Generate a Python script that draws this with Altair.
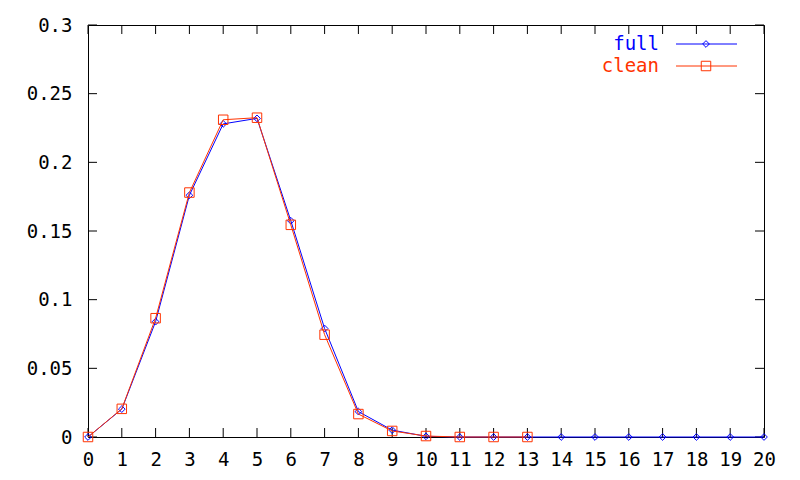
import altair as alt
import pandas as pd

x_full = list(range(21))
full = [0.0, 0.0203, 0.0840, 0.1760, 0.2280, 0.2320, 0.1575, 0.0790, 0.0185,
        0.0050, 0.0005, 0.0, 0.0, 0.0, 0.0, 0.0, 0.0, 0.0, 0.0, 0.0, 0.0]
x_clean = list(range(14))
clean = [0.0, 0.0205, 0.0865, 0.1780, 0.2310, 0.2325, 0.1545, 0.0745, 0.0167,
         0.0044, 0.0007, 0.0, 0.0, 0.0]
x_ticks = list(range(21))
y_ticks = [0.0, 0.05, 0.1, 0.15, 0.2, 0.25, 0.3]

BLUE = "#0000FF"
RED = "#FF3300"
FONT = "DejaVu Sans Mono"
FS = 19
W, H = 676, 412

df_full = pd.DataFrame({"x": x_full, "y": full})
df_clean = pd.DataFrame({"x": x_clean, "y": clean})
df_xt = pd.DataFrame({"x": x_ticks})
df_yt = pd.DataFrame({"y": y_ticks})

xs = alt.Scale(domain=[0, 20], nice=False, zero=False)
ys = alt.Scale(domain=[0, 0.3], nice=False)

xaxis = alt.Axis(values=x_ticks, format="d", tickSize=0, domain=False, grid=False,
                 labelPadding=13, title=None, labelFlush=False, labelOverlap=False)
yaxis = alt.Axis(values=y_ticks, format="~g", tickSize=0, domain=False, grid=False,
                 labelPadding=16, title=None, labelOverlap=False)

X = alt.X("x:Q", scale=xs, axis=xaxis)
Y = alt.Y("y:Q", scale=ys, axis=yaxis)

line_full = alt.Chart(df_full).mark_line(color=BLUE, strokeWidth=1).encode(x=X, y=Y)
pts_full = alt.Chart(df_full).mark_point(shape="diamond", color=BLUE, size=45,
                                          strokeWidth=1, filled=False, opacity=1).encode(x=X, y=Y)
line_clean = alt.Chart(df_clean).mark_line(color=RED, strokeWidth=1).encode(x=X, y=Y)
pts_clean = alt.Chart(df_clean).mark_point(shape="square", color=RED, size=90,
                                            strokeWidth=1, filled=False, opacity=1).encode(x=X, y=Y)

tick_b = alt.Chart(df_xt).mark_rule(color="black", strokeWidth=1).encode(
    x=X, y=alt.value(H), y2=alt.value(H - 9))
tick_t = alt.Chart(df_xt).mark_rule(color="black", strokeWidth=1).encode(
    x=X, y=alt.value(0), y2=alt.value(9))
tick_l = alt.Chart(df_yt).mark_rule(color="black", strokeWidth=1).encode(
    y=Y, x=alt.value(0), x2=alt.value(9))
tick_r = alt.Chart(df_yt).mark_rule(color="black", strokeWidth=1).encode(
    y=Y, x=alt.value(W), x2=alt.value(W - 9))

# legend (label left, sample line + symbol right, as in gnuplot)
one = pd.DataFrame({"t": ["full"]})
one_c = pd.DataFrame({"t": ["clean"]})
leg_text_full = alt.Chart(one).mark_text(
    font=FONT, fontSize=FS, color=BLUE, align="right", baseline="middle").encode(
    text="t:N", x=alt.value(571), y=alt.value(19))
leg_text_clean = alt.Chart(one_c).mark_text(
    font=FONT, fontSize=FS, color=RED, align="right", baseline="middle").encode(
    text="t:N", x=alt.value(571), y=alt.value(41))
leg_line_full = alt.Chart(one).mark_rule(color=BLUE, strokeWidth=1).encode(
    x=alt.value(588), x2=alt.value(649), y=alt.value(19))
leg_line_clean = alt.Chart(one_c).mark_rule(color=RED, strokeWidth=1).encode(
    x=alt.value(588), x2=alt.value(649), y=alt.value(41))
leg_pt_full = alt.Chart(one).mark_point(
    shape="diamond", color=BLUE, size=45, filled=False, strokeWidth=1, opacity=1).encode(
    x=alt.value(618), y=alt.value(19))
leg_pt_clean = alt.Chart(one_c).mark_point(
    shape="square", color=RED, size=90, filled=False, strokeWidth=1, opacity=1).encode(
    x=alt.value(618), y=alt.value(41))

chart = alt.layer(
    tick_b, tick_t, tick_l, tick_r,
    line_full, pts_full, line_clean, pts_clean,
    leg_line_full, leg_pt_full, leg_text_full,
    leg_line_clean, leg_pt_clean, leg_text_clean,
).properties(
    width=W, height=H,
    autosize=alt.AutoSizeParams(type="none"),
    padding={"left": 80, "top": 17, "right": 28, "bottom": 35},
    background="white",
).configure_view(stroke="black", strokeWidth=1
).configure_axis(labelFont=FONT, labelFontSize=FS, labelColor="black",
                 labelFontWeight="normal", labelOverlap=False)

chart.save("out.html", embed_options={"renderer": "svg", "actions": False})
